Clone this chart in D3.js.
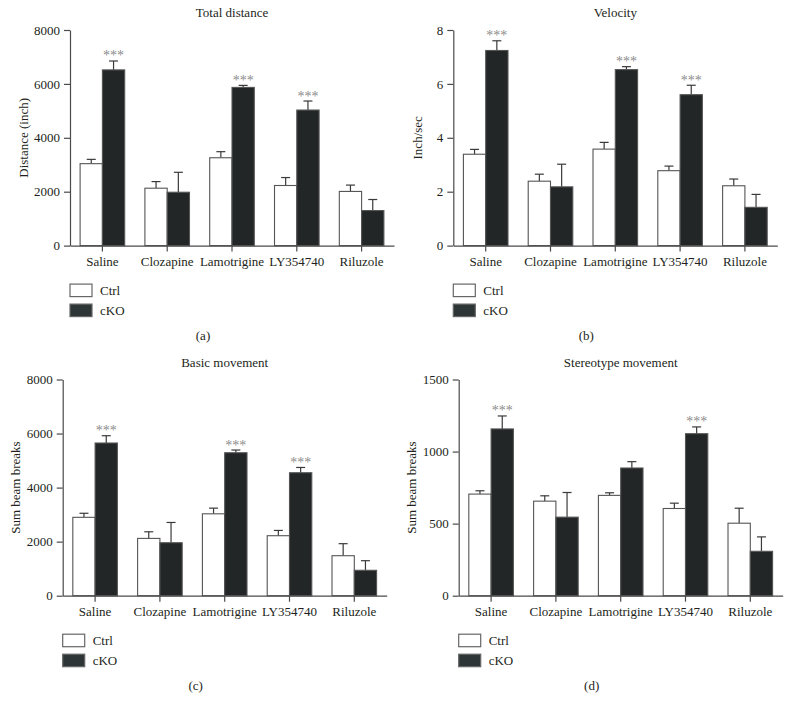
<!DOCTYPE html>
<html>
<head>
<meta charset="utf-8">
<script src="https://cdn.jsdelivr.net/npm/d3@7"></script>
<style>
  body { margin: 0; background: #fff; }
  svg text { font-family: "Liberation Serif", "Times New Roman", serif; fill: #231f20; }
</style>
</head>
<body>
<div id="chart"></div>
<script>
const categories = ["Saline", "Clozapine", "Lamotrigine", "LY354740", "Riluzole"]
const groups = ["Ctrl", "cKO"]

// (a) total distance
const distCtrl = [3040, 2130, 3260, 2230, 2010]
const distCtrlSem = [160, 245, 225, 295, 235]
const distCko = [6520, 1980, 5870, 5030, 1300]
const distCkoSem = [330, 740, 75, 335, 410]
const distStars = [true, false, true, true, false]
const distTicks = [0, 2000, 4000, 6000, 8000]

// (b) velocity
const velCtrl = [3.39, 2.39, 3.58, 2.78, 2.22]
const velCtrlSem = [0.18, 0.26, 0.25, 0.17, 0.25]
const velCko = [7.24, 2.18, 6.53, 5.60, 1.42]
const velCkoSem = [0.36, 0.84, 0.11, 0.35, 0.48]
const velStars = [true, false, true, true, false]
const velTicks = [0, 2, 4, 6, 8]

// (c) basic movement
const basicCtrl = [2900, 2120, 3030, 2220, 1480]
const basicCtrlSem = [150, 245, 210, 195, 445]
const basicCko = [5650, 1960, 5290, 4550, 940]
const basicCkoSem = [270, 750, 100, 195, 355]
const basicStars = [true, false, true, true, false]
const basicTicks = [0, 2000, 4000, 6000, 8000]

// (d) stereotype movement
const stereoCtrl = [705, 656, 696, 605, 503]
const stereoCtrlSem = [23, 37, 18, 37, 104]
const stereoCko = [1157, 545, 886, 1124, 308]
const stereoCkoSem = [90, 171, 44, 47, 100]
const stereoStars = [true, false, false, true, false]
const stereoTicks = [0, 500, 1000, 1500]

const width = 792, height = 714
const fill = {"Ctrl": "#ffffff", "cKO": "#222627"}
const legendFill = {"Ctrl": "#ffffff", "cKO": "#2e3536"}

let svg = d3.select("#chart").append("svg")
    .attr("width", width)
    .attr("height", height)

function drawPanel(p) {
    let g = svg.append("g")

    let x = d3.scaleBand()
        .domain(categories)
        .range([p.x0, p.x0 + 324])
        .paddingInner(0.312)
        .paddingOuter(0.156)

    let x1 = d3.scaleBand()
        .domain(groups)
        .range([0, x.bandwidth()])

    let y = d3.scaleLinear()
        .domain([0, p.ticks[p.ticks.length - 1]])
        .range([p.yBot, p.yTop])

    let rows = categories.map(function(c, i) {
        return [
            {cat: c, grp: "Ctrl", v: p.ctrl[i], e: p.ctrlSem[i], star: false},
            {cat: c, grp: "cKO", v: p.cko[i], e: p.ckoSem[i], star: p.stars[i]}
        ]
    }).flat()

    // error bars
    let err = g.append("g").selectAll("g")
        .data(rows)
        .enter()
        .append("g")
        .attr("transform", d => `translate(${x(d.cat) + x1(d.grp) + x1.bandwidth() / 2}, 0)`)
    err.append("line")
        .attr("y1", d => y(d.v)).attr("y2", d => y(d.v + d.e))
        .attr("stroke", "#3a3a3a").attr("stroke-width", 1.2)
    err.append("line")
        .attr("x1", -4.5).attr("x2", 4.5)
        .attr("y1", d => y(d.v + d.e)).attr("y2", d => y(d.v + d.e))
        .attr("stroke", "#3a3a3a").attr("stroke-width", 1.2)

    // bars
    g.append("g").selectAll("rect")
        .data(rows)
        .enter()
        .append("rect")
        .attr("x", d => x(d.cat) + x1(d.grp))
        .attr("y", d => y(d.v))
        .attr("width", x1.bandwidth())
        .attr("height", d => y(0) - y(d.v))
        .attr("fill", d => fill[d.grp])
        .attr("stroke", "#555")
        .attr("stroke-width", 1.1)

    // significance stars
    g.append("g").selectAll("text")
        .data(rows.filter(d => d.star))
        .enter()
        .append("text")
        .attr("x", d => x(d.cat) + x1(d.grp) + x1.bandwidth() / 2)
        .attr("y", d => y(d.v + d.e) - 0.5)
        .attr("text-anchor", "middle")
        .style("font-size", "14px")
        .style("fill", "#8c8c8c")
        .text("***")

    // axes
    let xAxis = g.append("g")
        .attr("transform", `translate(0, ${p.yBot})`)
        .call(d3.axisBottom(x).tickSize(6).tickSizeOuter(0).tickPadding(5))
    xAxis.select(".domain").attr("stroke", "#4a4a4a").attr("stroke-width", 1.2)
    xAxis.selectAll(".tick line").attr("stroke", "#4a4a4a").attr("stroke-width", 1.2)
    xAxis.selectAll("text").style("font-size", "13px").style("font-family", null)

    let yAxis = g.append("g")
        .attr("transform", `translate(${p.x0}, 0)`)
        .call(d3.axisLeft(y).tickValues(p.ticks).tickFormat(d3.format("d"))
            .tickSize(6).tickSizeOuter(0).tickPadding(4))
    yAxis.select(".domain").attr("stroke", "#4a4a4a").attr("stroke-width", 1.2)
    yAxis.selectAll(".tick line").attr("stroke", "#4a4a4a").attr("stroke-width", 1.2)
    yAxis.selectAll("text").style("font-size", "13px").style("font-family", null)

    // title + y label
    g.append("text")
        .attr("x", p.x0 + 162)
        .attr("y", p.yTop - 13)
        .attr("text-anchor", "middle")
        .style("font-size", "13px")
        .text(p.title)

    g.append("text")
        .attr("transform", `translate(${p.x0 - p.labelOff}, ${(p.yTop + p.yBot) / 2}) rotate(-90)`)
        .attr("dy", "0.35em")
        .attr("text-anchor", "middle")
        .style("font-size", "13px")
        .text(p.yLabel)

    // legend
    let leg = g.append("g").selectAll("g")
        .data(groups)
        .enter()
        .append("g")
        .attr("transform", (d, i) => `translate(${p.x0}, ${p.yBot + 38.5 + i * 20})`)
    leg.append("rect")
        .attr("width", 22).attr("height", 12.5)
        .attr("fill", d => legendFill[d])
        .attr("stroke", "#666").attr("stroke-width", 1.2)
    leg.append("text")
        .attr("x", 30).attr("y", 10.5)
        .style("font-size", "13px")
        .text(d => d)

    // panel letter
    g.append("text")
        .attr("x", p.x0 + 133)
        .attr("y", p.yBot + 94.5)
        .attr("text-anchor", "middle")
        .style("font-size", "13px")
        .text(p.letter)
}

drawPanel({x0: 70, yTop: 30, yBot: 245.6, ticks: distTicks, ctrl: distCtrl, ctrlSem: distCtrlSem,
    cko: distCko, ckoSem: distCkoSem, stars: distStars, title: "Total distance",
    yLabel: "Distance (inch)", labelOff: 47, letter: "(a)"})
drawPanel({x0: 453.3, yTop: 30, yBot: 245.6, ticks: velTicks, ctrl: velCtrl, ctrlSem: velCtrlSem,
    cko: velCko, ckoSem: velCkoSem, stars: velStars, title: "Velocity",
    yLabel: "Inch/sec", labelOff: 36, letter: "(b)"})
drawPanel({x0: 62.7, yTop: 379.5, yBot: 595.7, ticks: basicTicks, ctrl: basicCtrl, ctrlSem: basicCtrlSem,
    cko: basicCko, ckoSem: basicCkoSem, stars: basicStars, title: "Basic movement",
    yLabel: "Sum beam breaks", labelOff: 47, letter: "(c)"})
drawPanel({x0: 458.7, yTop: 379.5, yBot: 595.7, ticks: stereoTicks, ctrl: stereoCtrl, ctrlSem: stereoCtrlSem,
    cko: stereoCko, ckoSem: stereoCkoSem, stars: stereoStars, title: "Stereotype movement",
    yLabel: "Sum beam breaks", labelOff: 47, letter: "(d)"})
</script>
</body>
</html>
